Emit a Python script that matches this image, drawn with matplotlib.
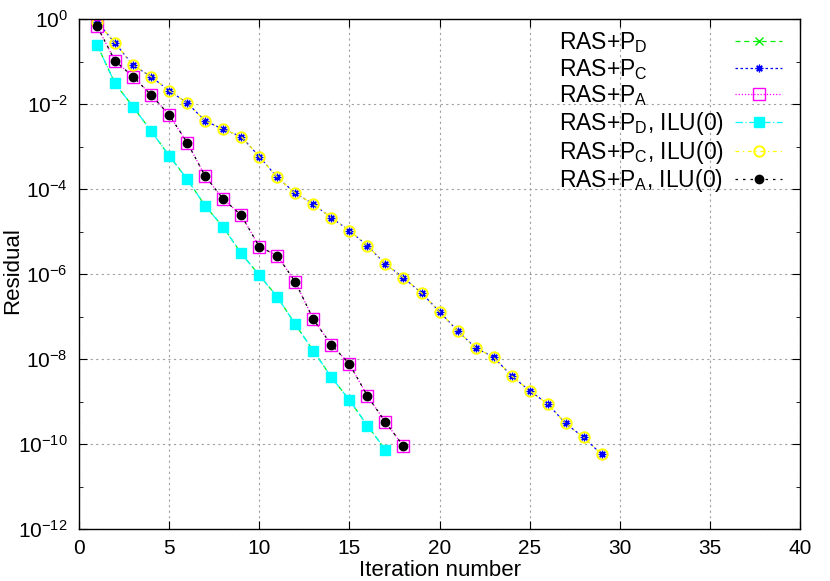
import matplotlib
matplotlib.use("Agg")
import matplotlib.pyplot as plt
import numpy as np

plt.rcParams['font.family'] = ['Liberation Sans', 'DejaVu Sans']
plt.rcParams['mathtext.default'] = 'regular'

# log10 of residual
iters_d = list(range(1, 18))
log_d = [-0.60, -1.51, -2.06, -2.63, -3.21, -3.76, -4.39, -4.89, -5.51, -6.02,
         -6.53, -7.18, -7.80, -8.42, -8.96, -9.56, -10.13]

iters_c = list(range(1, 30))
log_c = [-0.06, -0.56, -1.08, -1.35, -1.68, -1.97, -2.39, -2.59, -2.76, -3.23,
         -3.72, -4.09, -4.35, -4.67, -4.97, -5.33, -5.76, -6.08, -6.44, -6.88,
         -7.33, -7.73, -7.95, -8.39, -8.74, -9.05, -9.51, -9.84, -10.24]

iters_a = list(range(1, 19))
log_a = [-0.16, -0.98, -1.35, -1.78, -2.25, -2.90, -3.69, -4.23, -4.61, -5.35,
         -5.56, -6.18, -7.06, -7.66, -8.11, -8.86, -9.48, -10.04]

# ILU(0) variants lie on top of the plain ones
log_d_ilu = list(log_d)
log_c_ilu = list(log_c)
log_a_ilu = list(log_a)

labels = ["RAS+P$_D$", "RAS+P$_C$", "RAS+P$_A$",
          "RAS+P$_D$, ILU(0)", "RAS+P$_C$, ILU(0)", "RAS+P$_A$, ILU(0)"]

fig = plt.figure(figsize=(8.3, 5.81), dpi=100)
ax = fig.add_axes([0.0952, 0.089, 0.8687, 0.8778])

ax.plot(iters_d, 10.0 ** np.array(log_d), color='#00ee00', ls=(0, (4, 3)), lw=0.9,
        marker='x', ms=6, mew=1, label=labels[0])
ax.plot(iters_c, 10.0 ** np.array(log_c), color='#0000ff', ls=(0, (2, 2)), lw=0.9,
        marker=(8, 2, 0), ms=5.5, mew=0.9, label=labels[1])
ax.plot(iters_a, 10.0 ** np.array(log_a), color='#ff00ff', ls=(0, (1, 1.5)), lw=0.9,
        marker='s', ms=8, mfc='none', mew=1, label=labels[2])
ax.plot(iters_d, 10.0 ** np.array(log_d_ilu), color='#00ffff', ls=(0, (6, 2, 1, 2)), lw=0.9,
        marker='s', ms=6.5, label=labels[3])
ax.plot(iters_c, 10.0 ** np.array(log_c_ilu), color='#ffff00', ls=(0, (3, 3, 1, 3)), lw=0.9,
        marker='o', ms=7.5, mfc='none', mew=1.4, label=labels[4])
ax.plot(iters_a, 10.0 ** np.array(log_a_ilu), color='black', ls=(0, (2, 4)), lw=0.9,
        marker='o', ms=6, label=labels[5])

ax.set_yscale('log')
ax.set_xlim(0, 40)
ax.set_ylim(1e-12, 1)
ax.set_xticks(range(0, 41, 5))
yt = [10.0 ** k for k in range(-12, 1, 2)]
ax.set_yticks(yt)
ax.set_yticklabels(['$10^{%d}$' % k for k in range(-12, 1, 2)])
ax.set_yticks([10.0 ** k for k in range(-11, 0, 2)], minor=True)
ax.yaxis.set_minor_formatter(matplotlib.ticker.NullFormatter())
ax.tick_params(which='both', direction='in', top=True, right=True, labelsize=15)
ax.tick_params(axis='x', pad=7)
ax.tick_params(axis='y', pad=8)
ax.tick_params(which='major', length=6)
ax.tick_params(which='minor', length=3)
ax.grid(True, which='major', color='#a0a0a0', ls=(0, (2, 3)), lw=0.8)
for s in ax.spines.values():
    s.set_linewidth(1)

ax.set_xlabel("Iteration number", fontsize=16)
ax.xaxis.set_label_coords(0.5007, -0.061)
ax.set_ylabel("Residual", fontsize=16)
ax.yaxis.set_label_coords(-0.078, 0.508)

leg = ax.legend(loc='upper right', bbox_to_anchor=(0.988, 0.997), frameon=False,
                markerfirst=False, fontsize=16.5, handlelength=2.05,
                labelspacing=0.075, borderaxespad=0, handletextpad=0.5)

# gnuplot-style key: left-aligned texts, samples on the right
fig.canvas.draw()
r = fig.canvas.get_renderer()
widths = [t.get_window_extent(r).width for t in leg.get_texts()]
wmax = max(widths)
base_sep = 0.5 * 16.5
items = leg._legend_handle_box.get_children()[0].get_children()
for item, w in zip(items, widths):
    item.sep = base_sep + (wmax - w) * 72.0 / fig.dpi

fig.savefig("out.png", dpi=100)
